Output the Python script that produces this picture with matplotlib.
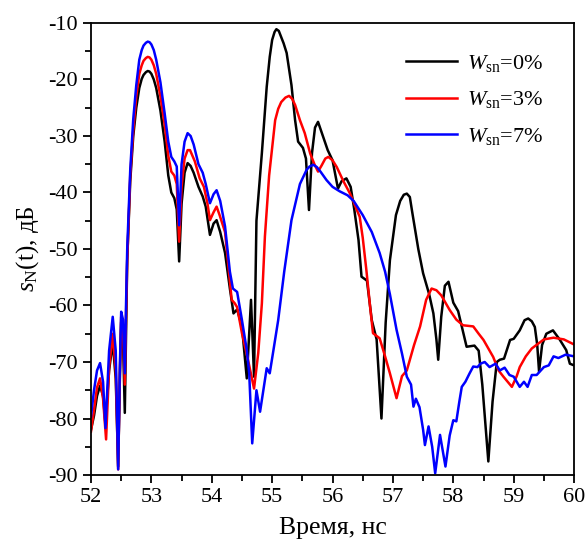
import matplotlib
matplotlib.use("Agg")
import matplotlib.pyplot as plt
from matplotlib.ticker import MultipleLocator

plt.rcParams["font.family"] = ["Liberation Serif", "DejaVu Serif"]
plt.rcParams["mathtext.fontset"] = "custom"
plt.rcParams["mathtext.rm"] = "Liberation Serif"
plt.rcParams["mathtext.it"] = "Liberation Serif:italic"
plt.rcParams["axes.unicode_minus"] = False

# W_sn = 0 %
t0 = [52.0, 52.05, 52.1, 52.15, 52.2, 52.24, 52.3, 52.36, 52.41, 52.45, 52.48, 52.5, 52.53, 52.56,
      52.58, 52.6, 52.65, 52.7, 52.75, 52.8, 52.84, 52.87, 52.91, 52.94, 52.97, 53.0, 53.04, 53.08,
      53.15, 53.22, 53.28, 53.33, 53.38, 53.42, 53.46, 53.5, 53.55, 53.6, 53.65, 53.7, 53.78, 53.85,
      53.9, 53.97, 54.03, 54.08, 54.14, 54.22, 54.3, 54.36, 54.42, 54.5, 54.58, 54.65, 54.7, 54.74,
      54.83, 54.91, 54.96, 55.0, 55.04, 55.07, 55.11, 55.15, 55.19, 55.24, 55.32, 55.38, 55.43, 55.51,
      55.56, 55.61, 55.66, 55.71, 55.76, 55.84, 55.92, 56.0, 56.09, 56.15, 56.23, 56.3, 56.36, 56.43,
      56.48, 56.57, 56.65, 56.73, 56.81, 56.88, 56.95, 57.05, 57.12, 57.18, 57.23, 57.28, 57.32,
      57.42, 57.5, 57.6, 57.67, 57.72, 57.75, 57.8, 57.86, 57.92, 58.0, 58.08, 58.14, 58.22, 58.35,
      58.42, 58.48, 58.58, 58.65, 58.72, 58.77, 58.84, 58.94, 59.0, 59.1, 59.18, 59.24, 59.3, 59.35,
      59.39, 59.42, 59.47, 59.54, 59.65, 59.76, 59.87, 59.93, 60.0]
s0 = [-82.0, -79.5, -76.0, -74.2, -76.0, -81.0, -71.5, -66.5, -73.0, -88.5, -72.0, -63.0, -66.0, -79.0,
      -66.0, -52.0, -38.0, -30.0, -25.0, -21.5, -19.9, -19.2, -18.7, -18.5, -18.6, -19.0, -20.0, -21.5,
      -25.5, -31.0, -37.0, -40.0, -41.0, -43.0, -52.2, -42.0, -36.5, -34.8, -35.3, -36.5, -39.0, -40.7,
      -42.5, -47.5, -45.5, -44.9, -47.0, -50.7, -57.0, -61.4, -60.7, -63.7, -72.9, -59.0, -72.6, -45.0,
      -33.0, -21.3, -16.0, -13.0, -11.6, -11.1, -11.4, -12.5, -13.6, -15.3, -21.0, -27.2, -31.0, -32.1,
      -34.0, -43.1, -33.0, -28.5, -27.5, -30.0, -32.5, -34.3, -39.3, -38.0, -37.5, -39.0, -43.0, -48.4,
      -54.9, -55.6, -62.6, -66.0, -80.0, -63.0, -52.0, -44.0, -41.5, -40.4, -40.2, -40.8, -43.5,
      -50.0, -54.3, -58.0, -61.4, -66.0, -69.6, -62.0, -56.5, -55.8, -59.5, -61.0, -63.7, -67.3, -67.1,
      -68.0, -74.0, -87.6, -77.0, -70.0, -69.6, -69.4, -66.1, -65.9, -64.4, -62.6, -62.3, -62.8, -63.8,
      -67.0, -71.7, -67.0, -65.0, -64.4, -66.0, -67.9, -70.3, -70.6]

# W_sn = 3 %
t3 = [52.0, 52.05, 52.1, 52.15, 52.2, 52.25, 52.3, 52.36, 52.41, 52.45, 52.48, 52.5, 52.53, 52.56,
      52.58, 52.6, 52.65, 52.7, 52.75, 52.8, 52.84, 52.87, 52.91, 52.94, 52.97, 53.0, 53.04, 53.08,
      53.15, 53.22, 53.28, 53.33, 53.38, 53.42, 53.46, 53.5, 53.55, 53.6, 53.64, 53.72, 53.8, 53.87,
      53.93, 53.97, 54.03, 54.08, 54.13, 54.22, 54.33, 54.38, 54.42, 54.5, 54.6, 54.7, 54.77, 54.83,
      54.88, 54.95, 55.05, 55.1, 55.15, 55.22, 55.28, 55.33, 55.38, 55.46, 55.54, 55.63, 55.7, 55.76,
      55.82, 55.88, 55.93, 56.0, 56.07, 56.18, 56.29, 56.45, 56.5, 56.56, 56.62, 56.67, 56.78, 56.87,
      56.95, 57.06, 57.15, 57.23, 57.35, 57.45, 57.55, 57.64, 57.72, 57.8, 57.94, 58.05, 58.16, 58.33,
      58.42, 58.5, 58.66, 58.75, 58.83, 58.97, 59.05, 59.1, 59.2, 59.3, 59.4, 59.5, 59.66, 59.83, 60.0]
s3 = [-82.3, -78.5, -74.5, -72.9, -76.5, -83.7, -71.0, -65.0, -71.5, -89.0, -71.0, -62.0, -64.0, -74.0,
      -62.0, -52.0, -37.0, -29.0, -23.0, -19.0, -17.5, -16.7, -16.2, -16.0, -16.1, -16.5, -17.5, -19.0,
      -23.0, -28.0, -33.5, -36.3, -37.0, -38.5, -48.7, -39.0, -34.0, -32.5, -32.5, -34.5, -37.5, -39.0,
      -42.0, -44.9, -43.5, -42.5, -44.0, -47.0, -59.0, -59.6, -60.3, -64.9, -69.6, -74.7, -68.4, -59.6,
      -47.8, -37.0, -27.2, -25.2, -24.0, -23.2, -22.9, -23.4, -24.5, -27.2, -29.5, -33.1, -35.0, -36.3,
      -35.2, -34.0, -33.7, -34.3, -35.5, -38.0, -40.2, -44.3, -48.0, -53.7, -60.0, -64.9, -65.8, -69.0,
      -72.0, -76.4, -72.5, -71.5, -67.0, -63.7, -59.0, -57.0, -57.3, -58.2, -60.8, -62.5, -63.5, -63.7,
      -65.0, -66.1, -69.1, -71.5, -72.6, -74.4, -72.5, -70.9, -69.0, -67.6, -66.8, -66.0, -65.7, -66.0,
      -66.9]

# W_sn = 7 %
t7 = [52.0, 52.05, 52.1, 52.15, 52.2, 52.24, 52.3, 52.36, 52.41, 52.45, 52.48, 52.5, 52.53, 52.56,
      52.58, 52.6, 52.65, 52.7, 52.75, 52.8, 52.84, 52.87, 52.91, 52.94, 52.97, 53.0, 53.04, 53.08,
      53.15, 53.22, 53.28, 53.33, 53.38, 53.42, 53.46, 53.5, 53.55, 53.6, 53.65, 53.7, 53.78, 53.85,
      53.9, 53.97, 54.03, 54.08, 54.14, 54.22, 54.3, 54.35, 54.42, 54.5, 54.58, 54.62, 54.67, 54.74,
      54.8, 54.91, 54.96, 55.02, 55.1, 55.2, 55.32, 55.46, 55.57, 55.62, 55.68, 55.74, 55.8, 55.9,
      56.0, 56.12, 56.25, 56.35, 56.5, 56.65, 56.78, 56.87, 56.95, 57.06, 57.15, 57.23, 57.3, 57.34,
      57.38, 57.44, 57.5, 57.53, 57.59, 57.65, 57.7, 57.78, 57.87, 57.94, 58.0, 58.05, 58.1, 58.14,
      58.2, 58.27, 58.33, 58.4, 58.45, 58.52, 58.6, 58.7, 58.77, 58.85, 58.93, 59.0, 59.1, 59.17,
      59.23, 59.3, 59.38, 59.5, 59.58, 59.66, 59.74, 59.86, 60.0]
s7 = [-79.7, -75.0, -71.5, -70.2, -73.5, -81.7, -68.0, -62.0, -68.0, -89.0, -70.0, -61.1, -62.5, -72.0,
      -60.0, -50.0, -36.0, -27.0, -21.0, -16.5, -14.8, -14.0, -13.5, -13.3, -13.4, -13.8, -14.8, -16.5,
      -20.5, -26.0, -31.0, -33.7, -34.5, -35.4, -45.8, -35.0, -31.0, -29.5, -30.0, -31.5, -35.0, -36.5,
      -38.5, -41.9, -40.3, -39.6, -41.5, -46.0, -54.0, -57.0, -57.6, -62.6, -67.9, -72.0, -84.4, -75.0,
      -78.8, -71.1, -72.0, -68.0, -62.6, -54.0, -44.9, -38.5, -36.0, -35.4, -35.1, -35.5, -36.3, -37.8,
      -39.0, -39.8, -40.5, -41.5, -44.0, -47.0, -50.7, -54.0, -58.0, -64.3, -68.5, -72.6, -74.0, -77.9,
      -76.5, -78.0, -82.0, -84.7, -81.4, -85.0, -89.7, -82.9, -88.5, -83.0, -80.3, -80.5, -77.0, -74.4,
      -73.5, -72.0, -70.8, -70.9, -70.3, -70.0, -70.9, -70.3, -71.5, -71.0, -72.3, -72.6, -74.4, -73.5,
      -74.4, -72.3, -72.3, -70.9, -70.6, -69.0, -69.3, -68.7, -69.0]

labels = [r"$\mathit{W}_{\mathrm{sn}}$=0%", r"$\mathit{W}_{\mathrm{sn}}$=3%", r"$\mathit{W}_{\mathrm{sn}}$=7%"]
colors = ["#000000", "#ff0000", "#0000ff"]

fig = plt.figure(figsize=(5.87, 5.42), dpi=100)
ax = fig.add_axes([0.155, 0.1236, 0.823, 0.834])

for t, s, lab, c in zip([t0, t3, t7], [s0, s3, s7], labels, colors):
    ax.plot(t, s, color=c, lw=1.8, label=lab, solid_joinstyle="round")

ax.set_xlim(52, 60)
ax.set_ylim(-90, -10)
ax.xaxis.set_major_locator(MultipleLocator(1))
ax.xaxis.set_minor_locator(MultipleLocator(0.5))
ax.yaxis.set_major_locator(MultipleLocator(10))
ax.yaxis.set_minor_locator(MultipleLocator(5))
ax.tick_params(which="both", direction="out", top=False, right=False, width=1.3, labelsize=16)
ax.tick_params(which="major", length=6)
ax.tick_params(which="minor", length=4)
for sp in ax.spines.values():
    sp.set_linewidth(1.3)

ax.set_xlabel("Время, нс", fontsize=18.5, labelpad=7)
ax.set_ylabel(r"$\mathit{s}_{\mathrm{N}}$(t), дБ", fontsize=18, labelpad=5)

leg = ax.legend(loc="upper right", bbox_to_anchor=(0.978, 0.978), frameon=False, fontsize=16,
                handlelength=2.3, handletextpad=0.45, labelspacing=0.7)

fig.savefig("out.png", dpi=100)
